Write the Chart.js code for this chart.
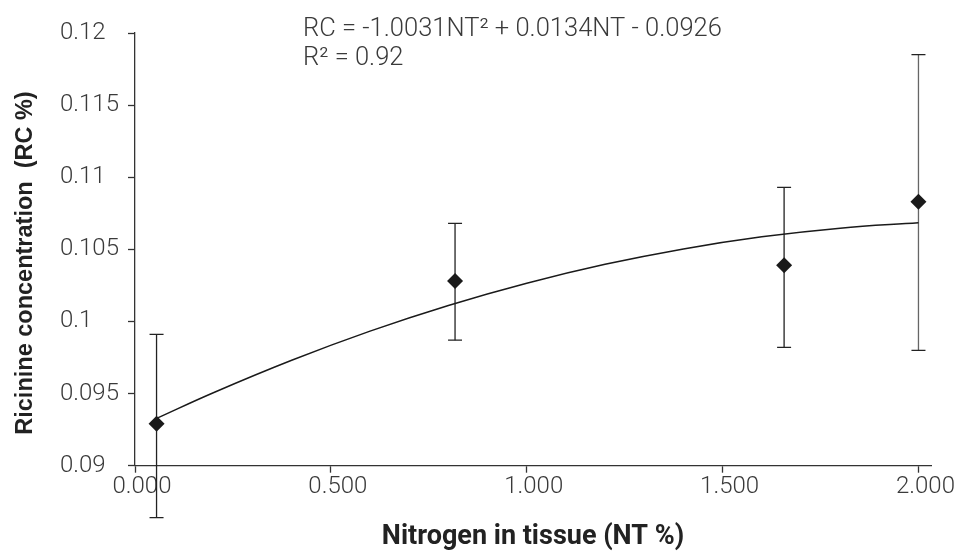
<!DOCTYPE html>
<html>
<head>
<meta charset="utf-8">
<script src="https://cdn.jsdelivr.net/npm/chart.js@4.4.1/dist/chart.umd.min.js"></script>
<style>
  html, body { margin: 0; padding: 0; background: #fff; }
  #wrap { width: 963px; height: 551px; }
</style>
</head>
<body>
<div id="wrap"><canvas id="myChart" width="963" height="551"></canvas></div>
<script>
// nitrogen in tissue (NT %) and mean ricinine concentration (RC %)
const ntValues = [0.055, 0.817, 1.657, 2.0];
const rcValues = [0.0929, 0.1028, 0.1039, 0.1083];
const rcUpper = [0.0991, 0.1068, 0.1093, 0.1185];
const rcLower = [0.0864, 0.0987, 0.0982, 0.0980];

// fitted curve
const trendNT = [0.055, 0.2, 0.4, 0.6, 0.8, 1.0, 1.2, 1.4, 1.6, 1.8, 2.0];
const trendRC = [0.09328, 0.09506, 0.09731, 0.09933, 0.10111, 0.10265, 0.10396, 0.10503, 0.10587, 0.10647, 0.10684];

const xTicks = [0, 0.5, 1, 1.5, 2];
const xTickLabels = ['0.000', '0.500', '1.000', '1.500', '2.000'];
const yTicks = [0.09, 0.095, 0.1, 0.105, 0.11, 0.115, 0.12];
const yTickLabels = ['0.09', '0.095', '0.1', '0.105', '0.11', '0.115', '0.12'];

const equationLines = ['RC = -1.0031NT\u00b2 + 0.0134NT - 0.0926', 'R\u00b2 = 0.92'];
const xTitle = 'Nitrogen in tissue (NT %)';
const yTitle = 'Ricinine concentration  (RC %)';

const barColors = ['#222', '#222', '#222', '#666'];

const errorBars = {
  id: 'errorBars',
  beforeDatasetsDraw(chart) {
    const x = chart.scales.x, y = chart.scales.y;
    const ctx = chart.ctx;
    ctx.save();
    ctx.lineWidth = 1.3;
    ntValues.forEach((nt, i) => {
      const px = x.getPixelForValue(nt);
      const top = y.getPixelForValue(rcUpper[i]);
      const bot = y.getPixelForValue(rcLower[i]);
      ctx.strokeStyle = barColors[i];
      ctx.beginPath();
      ctx.moveTo(px, top); ctx.lineTo(px, bot);
      ctx.stroke();
      ctx.strokeStyle = '#222';
      ctx.beginPath();
      ctx.moveTo(px - 7, top); ctx.lineTo(px + 7, top);
      ctx.moveTo(px - 7, bot); ctx.lineTo(px + 7, bot);
      ctx.stroke();
    });
    ctx.restore();
  }
};

const textBits = {
  id: 'textBits',
  afterDraw(chart) {
    const ctx = chart.ctx;
    ctx.save();
    ctx.fillStyle = '#3a3a3a';
    ctx.font = '300 25.5px Roboto';
    ctx.textAlign = 'left';
    ctx.textBaseline = 'alphabetic';
    ctx.fillText(equationLines[0], 303, 36);
    ctx.fillText(equationLines[1], 303, 65);

    ctx.fillStyle = '#222';
    ctx.font = 'bold 23.5px "Liberation Sans"';
    ctx.translate(26, 263);
    ctx.rotate(-Math.PI / 2);
    ctx.textAlign = 'center';
    ctx.textBaseline = 'middle';
    ctx.fillText(yTitle, 0, 0);
    ctx.restore();
  }
};

new Chart(document.getElementById('myChart').getContext('2d'), {
  type: 'scatter',
  data: {
    datasets: [
      {
        label: 'RC',
        data: ntValues.map((v, i) => ({ x: v, y: rcValues[i] })),
        pointStyle: 'rectRot',
        pointRadius: 8,
        pointBackgroundColor: '#1a1a1a',
        pointBorderWidth: 0,
        showLine: false,
        order: 0
      },
      {
        label: 'trend',
        data: trendNT.map((v, i) => ({ x: v, y: trendRC[i] })),
        showLine: true,
        pointRadius: 0,
        borderColor: '#1a1a1a',
        borderWidth: 1.5,
        tension: 0.4,
        order: 1
      }
    ]
  },
  options: {
    responsive: false,
    animation: false,
    devicePixelRatio: 1,
    layout: { padding: { left: 60, right: 32, top: 33, bottom: 0 } },
    plugins: { legend: { display: false }, tooltip: { enabled: false } },
    scales: {
      x: {
        type: 'linear',
        min: 0,
        max: 2.032,
        afterBuildTicks: s => { s.ticks = xTicks.map(v => ({ value: v })); },
        afterFit: s => { s.height = 85.3; },
        border: { display: true, color: '#333', width: 1.3 },
        grid: { display: true, drawOnChartArea: false, drawTicks: true, tickLength: 7, color: '#333', tickWidth: 1.3 },
        ticks: {
          padding: 0,
          labelOffset: 7,
          color: '#3a3a3a',
          font: { family: 'Roboto', size: 24, weight: '300' },
          maxRotation: 0,
          callback: (v, i) => xTickLabels[i]
        },
        title: {
          display: true,
          text: xTitle,
          color: '#222',
          font: { family: 'Roboto', size: 27, weight: 'bold', lineHeight: 1.0 },
          padding: { top: 0, bottom: 0 }
        }
      },
      y: {
        type: 'linear',
        min: 0.09,
        max: 0.12,
        afterBuildTicks: s => { s.ticks = yTicks.map(v => ({ value: v })); },
        afterFit: s => { s.width = 75; },
        border: { display: true, color: '#333', width: 1.3 },
        grid: { display: true, drawOnChartArea: false, drawTicks: true, tickLength: 7, color: '#333', tickWidth: 1.3 },
        ticks: {
          crossAlign: 'far',
          padding: 8,
          color: '#3a3a3a',
          font: { family: 'Roboto', size: 24, weight: '300' },
          callback: (v, i) => yTickLabels[i]
        }
      }
    }
  },
  plugins: [errorBars, textBits]
});
</script>
</body>
</html>
